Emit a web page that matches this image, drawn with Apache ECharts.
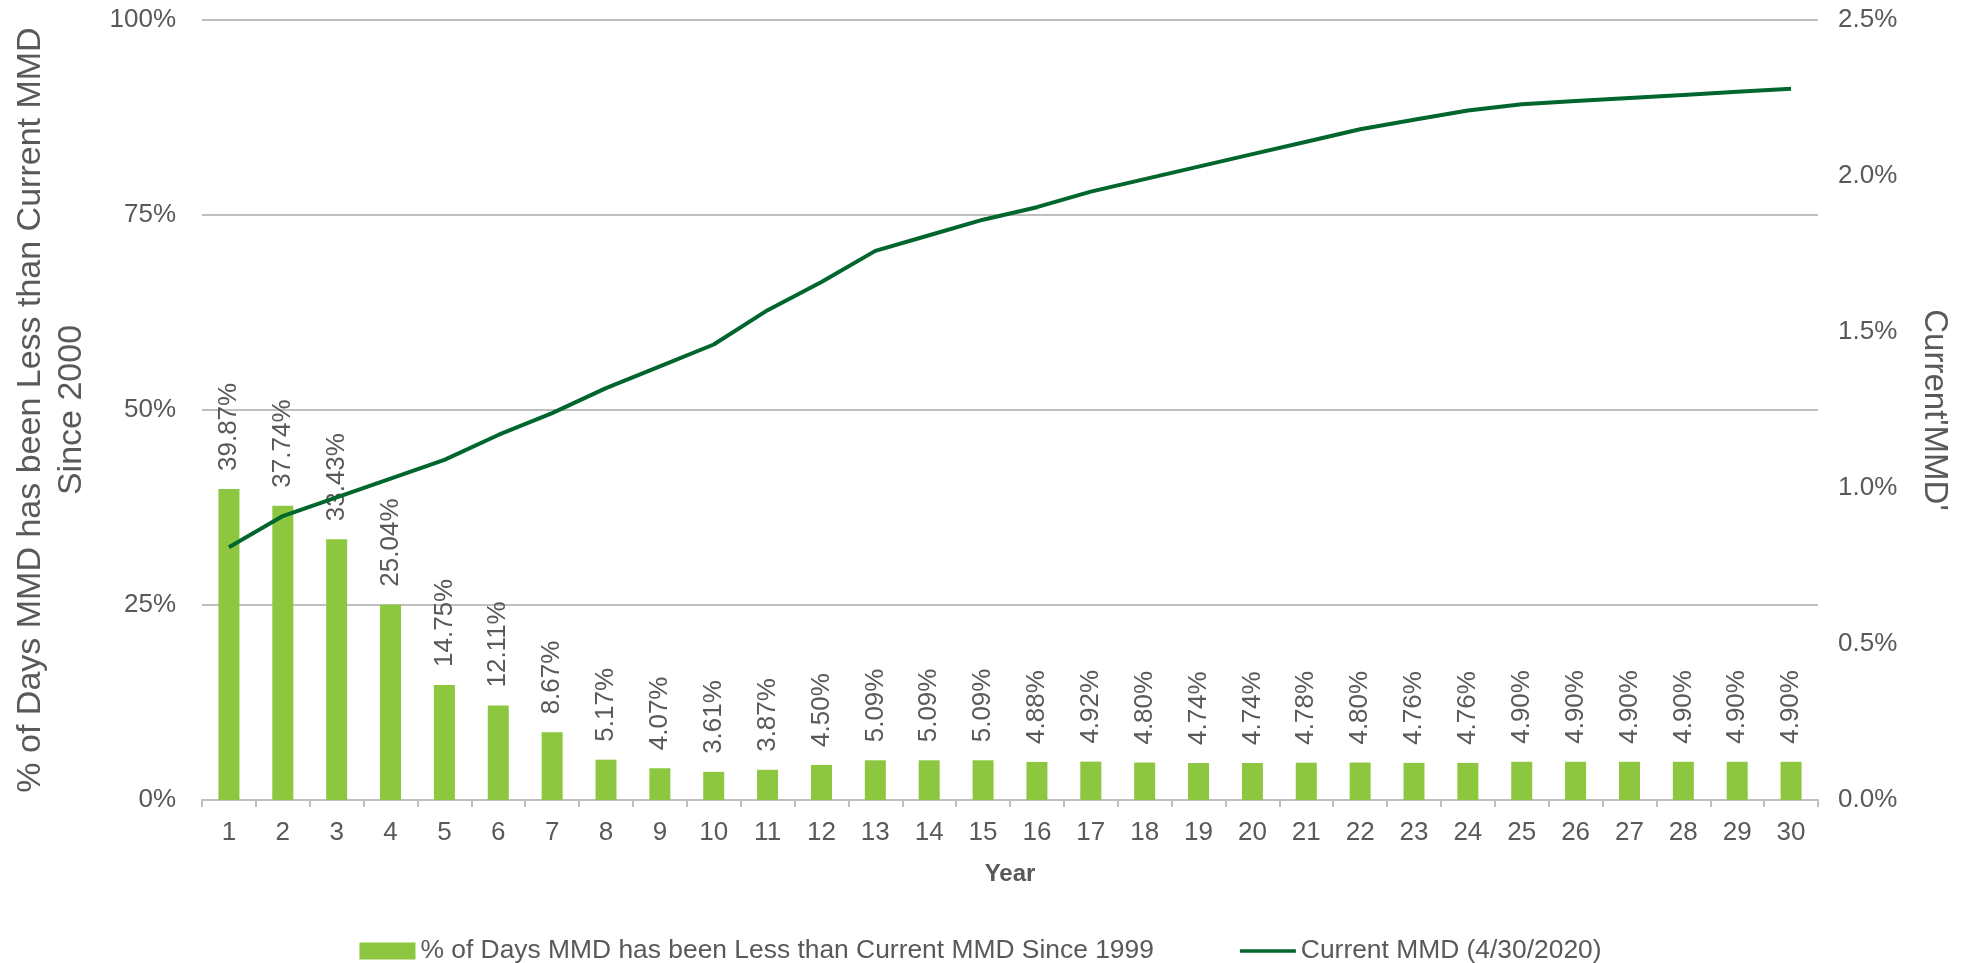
<!DOCTYPE html>
<html>
<head>
<meta charset="utf-8">
<script src="https://cdn.jsdelivr.net/npm/echarts@6/dist/echarts.min.js"></script>
<style>
  html, body { margin: 0; padding: 0; background: #fff; }
  #main { width: 1961px; height: 963px; }
</style>
</head>
<body>
<div id="main"></div>
<script>
// data
var years = ['1','2','3','4','5','6','7','8','9','10','11','12','13','14','15',
  '16','17','18','19','20','21','22','23','24','25','26','27','28','29','30'];
// % of days MMD less than current (left axis)
var pctDays = [39.87, 37.74, 33.43, 25.04, 14.75, 12.11, 8.67, 5.17, 4.07, 3.61,
  3.87, 4.50, 5.09, 5.09, 5.09, 4.88, 4.92, 4.80, 4.74, 4.74,
  4.78, 4.80, 4.76, 4.76, 4.90, 4.90, 4.90, 4.90, 4.90, 4.90];
// current MMD curve in % (right axis)
var currentMMD = [0.81, 0.91, 0.97, 1.03, 1.09, 1.17, 1.24, 1.32, 1.39, 1.46,
  1.57, 1.66, 1.76, 1.81, 1.86, 1.90, 1.95, 1.99, 2.03, 2.07,
  2.11, 2.15, 2.18, 2.21, 2.23, 2.24, 2.25, 2.26, 2.27, 2.28];
var leftTicks = [0, 100, 25];
var rightTicks = [0, 2.5, 0.5];

var barName = '% of Days MMD has been Less than Current MMD Since 1999';
var lineName = 'Current MMD (4/30/2020)';

var font = '"Liberation Sans", Arial, sans-serif';
var grey = '#595959';

var myChart = echarts.init(document.getElementById('main'));
var option = {
    animation: false,
    textStyle: { fontFamily: font, color: grey },
    grid: { left: 202, right: 143, top: 20, bottom: 163 },
    legend: {
        top: 933,
        left: 'center',
        itemWidth: 56,
        itemHeight: 17,
        itemGap: 86,
        textStyle: { fontSize: 26.4, color: grey, fontFamily: font },
        data: [
            { name: barName, icon: 'rect' },
            { name: lineName, icon: 'path://M0,0 L60,0 L60,4 L0,4 Z' }
        ]
    },
    xAxis: {
        type: 'category',
        data: years,
        name: 'Year',
        nameLocation: 'middle',
        nameGap: 62,
        nameTextStyle: { fontSize: 24, fontWeight: 'bold', color: grey },
        axisLine: { lineStyle: { color: '#bfbfbf', width: 2 } },
        axisTick: { show: true, length: 7, lineStyle: { color: '#bfbfbf', width: 2 } },
        axisLabel: { fontSize: 26, color: grey, margin: 20 }
    },
    yAxis: [{
        type: 'value',
        min: leftTicks[0],
        max: leftTicks[1],
        interval: leftTicks[2],
        name: '% of Days MMD has been Less than Current MMD\nSince 2000',
        nameLocation: 'middle',
        nameGap: 110,
        nameRotate: 90,
        nameTextStyle: { fontSize: 34, color: grey, lineHeight: 41 },
        axisLine: { show: false },
        axisTick: { show: false },
        axisLabel: { fontSize: 26, color: grey, margin: 26, formatter: '{value}%' },
        splitLine: { lineStyle: { color: '#bfbfbf', width: 2 } }
    }, {
        type: 'value',
        min: rightTicks[0],
        max: rightTicks[1],
        interval: rightTicks[2],
        name: "Current'MMD'",
        nameLocation: 'middle',
        nameGap: 100,
        nameRotate: -90,
        nameTextStyle: { fontSize: 33, color: grey },
        axisLine: { show: false },
        axisTick: { show: false },
        splitLine: { show: false },
        axisLabel: {
            fontSize: 26, color: grey, margin: 20,
            formatter: function (v) { return v.toFixed(1) + '%'; }
        }
    }],
    series: [{
        name: barName,
        type: 'bar',
        data: pctDays,
        barWidth: 21,
        itemStyle: { color: '#8dc63f' },
        label: {
            show: true,
            position: 'top',
            rotate: 90,
            align: 'left',
            verticalAlign: 'middle',
            distance: 18,
            fontSize: 26,
            color: grey,
            formatter: function (p) { return p.value.toFixed(2) + '%'; }
        }
    }, {
        name: lineName,
        type: 'line',
        yAxisIndex: 1,
        data: currentMMD,
        symbol: 'none',
        z: 3,
        lineStyle: { color: '#00662e', width: 4 },
        itemStyle: { color: '#00662e' }
    }]
};
myChart.setOption(option);
</script>
</body>
</html>
